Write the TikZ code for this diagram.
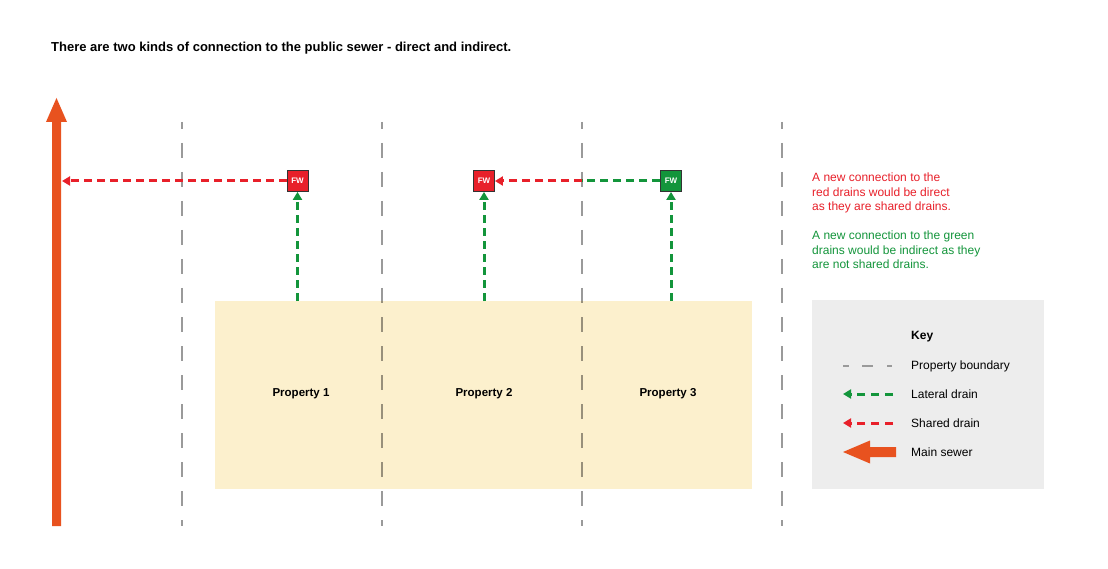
\documentclass[tikz,border=0pt]{standalone}
\usepackage{fontspec}
\setmainfont{Liberation Sans}
\usetikzlibrary{arrows.meta}
\definecolor{drainred}{HTML}{E8202A}
\definecolor{draingreen}{HTML}{13953B}
\definecolor{sewercol}{HTML}{E8521F}
\definecolor{propcol}{HTML}{FCF0CD}
\definecolor{keybg}{HTML}{EDEDED}
\definecolor{boundcol}{HTML}{9A9A9A}
\definecolor{fwborder}{HTML}{333333}
\tikzset{
  boundary/.style={draw=boundcol, line width=2pt, dash pattern=on 15pt off 14pt, dash phase=8pt},
  drainline/.style={line width=3pt, dash pattern=on 8pt off 5pt},
  shared/.style={drainline, draw=drainred, -{Triangle[length=8pt,width=9pt,fill=drainred]}},
  sharedplain/.style={drainline, draw=drainred},
  lateral/.style={drainline, draw=draingreen, -{Triangle[length=8pt,width=9pt,fill=draingreen]}},
  lateralplain/.style={drainline, draw=draingreen},
  fwbox/.style={draw=fwborder, line width=0.8pt, minimum size=21pt, inner sep=0pt, text=white, font=\bfseries\fontsize{8}{8}\selectfont},
  proplabel/.style={font=\bfseries\fontsize{11.5}{13}\selectfont},
  keylabel/.style={anchor=west, inner sep=0pt, font=\fontsize{12}{14}\selectfont},
  notetext/.style={anchor=north west, inner sep=0pt, align=left, font=\fontsize{12}{14.5}\selectfont},
}
\begin{document}
\begin{tikzpicture}[x=1pt,y=-1pt]
\useasboundingbox[fill=white] (0,0) rectangle (1108,569);

% title
\node[anchor=west, inner sep=0pt, font=\bfseries\fontsize{13}{15}\selectfont] (title) at (51,48)
  {There are two kinds of connection to the public sewer - direct and indirect.};

% property boundaries
\foreach \x in {182,382,582,782} {
  \draw[boundary] (\x,122) -- (\x,526);
}

% properties
\fill[propcol, blend mode=multiply] (215,301) rectangle (752,489);
\node[proplabel] (p1) at (301,394) {Property 1};
\node[proplabel] (p2) at (484,394) {Property 2};
\node[proplabel] (p3) at (668,394) {Property 3};

% main sewer
\fill[sewercol] (52,526) -- (52,122) -- (46,122) -- (56.5,98) -- (67,122) -- (61,122) -- (61,526) -- cycle;
\coordinate (sewer) at (62,181);

% FW boxes
\node[fwbox, fill=drainred] (fw1) at (297.5,181) {FW};
\node[fwbox, fill=drainred] (fw2) at (484,181) {FW};
\node[fwbox, fill=draingreen] (fw3) at (671,181) {FW};

\coordinate (s1) at (297.5,301);
\coordinate (s2) at (484,301);
\coordinate (s3) at (671,301);
\coordinate (join) at (582,181);

% drains
\draw[shared] (fw1.west) -- (sewer);
\draw[shared] (join) -- (fw2.east);
\draw[lateralplain] (fw3.west) -- (join);
\draw[lateral] (s1) -- (fw1.south);
\draw[lateral] (s2) -- (fw2.south);
\draw[lateral] (s3) -- (fw3.south);

% notes
\node[notetext, text=drainred] (note1) at (812,173)
  {A new connection to the\\red drains would be direct\\as they are shared drains.};
\node[notetext, text=draingreen] (note2) at (812,231)
  {A new connection to the green\\drains would be indirect as they\\are not shared drains.};

% key
\fill[keybg] (812,300) rectangle (1044,489);
\node[keylabel, font=\bfseries\fontsize{12}{14}\selectfont] (keyt) at (911,337) {Key};
\node[keylabel] (k1) at (911,366) {Property boundary};
\node[keylabel] (k2) at (911,394) {Lateral drain};
\node[keylabel] (k3) at (911,423) {Shared drain};
\node[keylabel] (k4) at (911,452) {Main sewer};

\draw[draw=boundcol, line width=2pt] (843,366) -- (849,366);
\draw[draw=boundcol, line width=2pt] (862,366) -- (873,366);
\draw[draw=boundcol, line width=2pt] (887,366) -- (892,366);
\coordinate (kl1) at (893,394); \coordinate (kl2) at (843,394);
\coordinate (ks1) at (893,423); \coordinate (ks2) at (843,423);
\draw[lateral, dash pattern=on 8pt off 6pt] (kl1) -- (kl2);
\draw[shared, dash pattern=on 8pt off 6pt] (ks1) -- (ks2);
\fill[sewercol] (896,447) -- (870,447) -- (870,440.5) -- (843,452) -- (870,463.5) -- (870,457) -- (896,457) -- cycle;
\end{tikzpicture}
\end{document}
